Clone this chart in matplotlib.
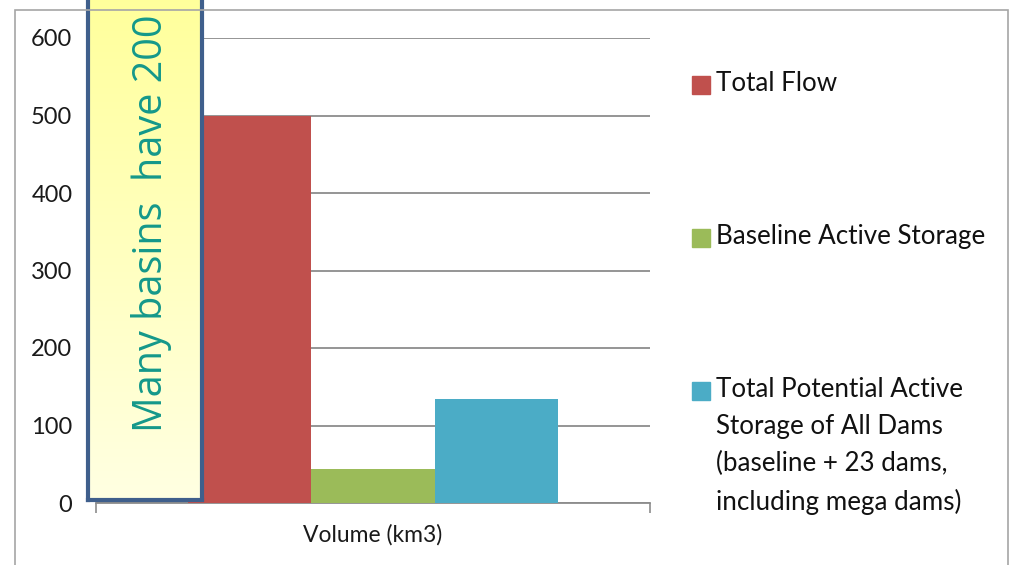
import matplotlib.pyplot as plt
import numpy as np
from matplotlib.patches import Rectangle

# serie del grafico (volumi in km3)
serie = [
    "Total Flow",
    "Baseline Active Storage",
    "Total Potential Active\nStorage of All Dams\n(baseline + 23 dams,\nincluding mega dams)",
]
valori = [500, 44, 134]
colori = ["#C0504D", "#9BBB59", "#4BACC6"]
categoria = "Volume (km3)"
y_ticks = [0, 100, 200, 300, 400, 500, 600]
nota = "Many basins  have 200"

W, H = 1011, 565
plt.rcParams["font.family"] = ["Lato", "DejaVu Sans"]

fig = plt.figure(figsize=(W / 100, H / 100), dpi=100)

# cornice esterna del grafico
fig.patches.append(Rectangle((15 / W, -0.05), 993 / W, 1.05 - 10 / H,
                             transform=fig.transFigure, fill=False,
                             edgecolor="#A6A6A6", linewidth=1.2))

ax = fig.add_axes([96 / W, 62 / H, 554 / W, 465 / H])

# barre raggruppate attorno alla categoria
offset = np.arange(len(valori)) - (len(valori) - 1) / 2
ax.bar(offset, valori, width=1.0, color=colori, zorder=3)

ax.set_xlim(-2.25, 2.25)
ax.set_ylim(0, 600)
ax.set_yticks(y_ticks)
ax.tick_params(axis="y", length=0, labelsize=17, pad=17, labelcolor="#1a1a1a")
ax.set_xticks([0], [categoria])
ax.tick_params(axis="x", length=0, labelsize=16.5, pad=15, labelcolor="#1a1a1a")
ax.set_xticks([-2.25, 2.25], minor=True)
ax.tick_params(axis="x", which="minor", length=7, width=1.2, color="#8C8C8C")

ax.yaxis.grid(True, color="#8C8C8C", linewidth=1.3, zorder=0)
for lato in ["top", "right", "left"]:
    ax.spines[lato].set_visible(False)
ax.spines["bottom"].set_color("#8C8C8C")
ax.spines["bottom"].set_linewidth(1.3)

# legenda disegnata a mano
legenda_y = [85, 238, 391]
for testo, col, yy in zip(serie, colori, legenda_y):
    fig.patches.append(Rectangle((692 / W, 1 - (yy + 9) / H), 18 / W, 18 / H,
                                 transform=fig.transFigure, color=col))
    fig.text(716 / W, 1 - (yy - 14) / H, testo, ha="left", va="top",
             fontsize=18.7, linespacing=1.6, color="#111111")

# riquadro con la nota in verticale
box = fig.add_axes([88 / W, 65 / H, 114 / W, 520 / H])
grad = np.linspace(0, 1, 256).reshape(-1, 1)
box.imshow(grad, aspect="auto", extent=[0, 1, 0, 1], origin="lower",
           cmap=plt.matplotlib.colors.LinearSegmentedColormap.from_list(
               "giallo", ["#FFFFE2", "#FFFF99"]))
box.set_xticks([])
box.set_yticks([])
for s in box.spines.values():
    s.set_color("#3F5F8C")
    s.set_linewidth(3)
fig.text(152 / W, 1 - 432 / H, nota, rotation=90, ha="center", va="bottom",
         fontsize=28.5, color="#14988A", family=["Open Sans", "DejaVu Sans"])

fig.savefig("out.png", dpi=100)
